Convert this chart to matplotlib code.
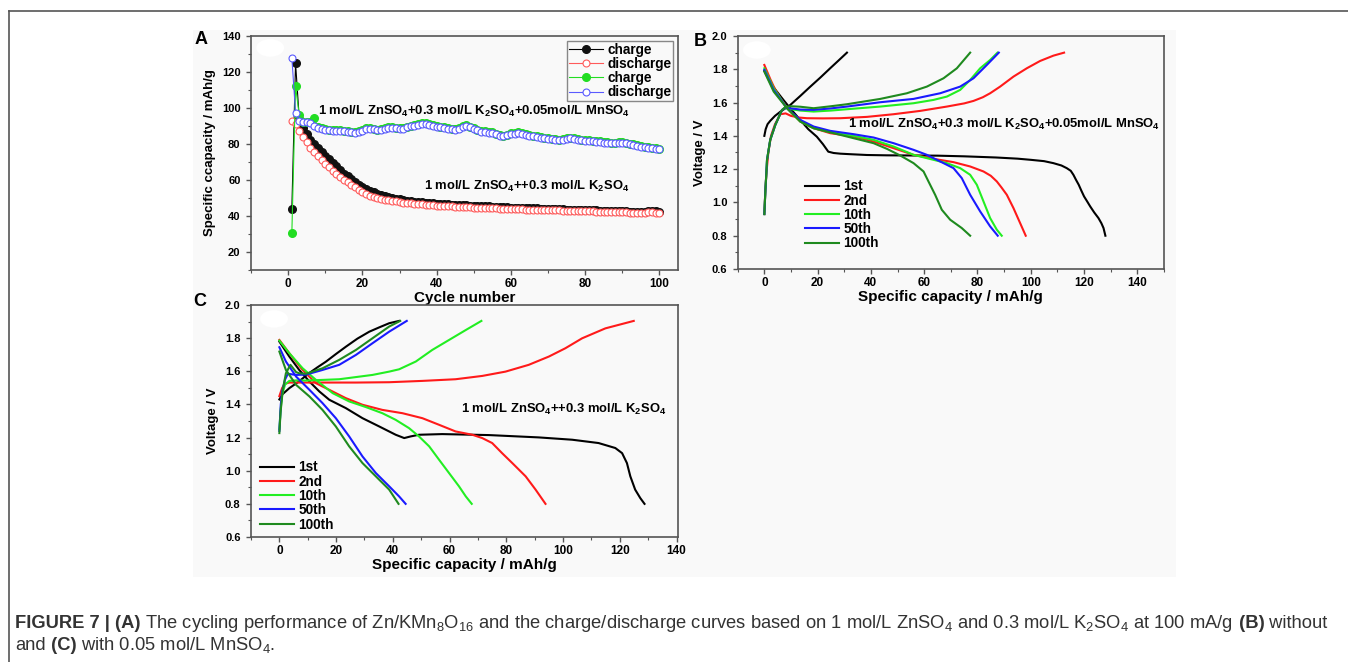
import numpy as np
import matplotlib.pyplot as plt
from matplotlib import font_manager
from matplotlib.lines import Line2D
from matplotlib.patches import Rectangle, Ellipse
from matplotlib.ticker import MultipleLocator

plt.rcParams['font.family'] = ['Liberation Sans', 'DejaVu Sans']
plt.rcParams['font.weight'] = 'bold'
plt.rcParams['axes.labelweight'] = 'bold'
plt.rcParams['mathtext.default'] = 'regular'

# ---------------- panel A: cycling ----------------
cycles = np.arange(1, 101)
a_charge_zn = [44, 125, 94, 89, 85.5, 82.5, 80, 77.8, 75.6, 73.5,
               71.5, 69.5, 67.6, 65.5, 63.6, 62, 60.5, 59, 57.5, 56.2,
               55, 54, 53.1, 52.3, 51.6, 51, 50.5, 50, 49.6, 49.2,
               48.9, 48.6, 48.3, 48, 47.8, 47.6, 47.4, 47.2, 47, 46.8,
               46.7, 46.6, 46.4, 46.3, 46.2, 46.1, 46.0, 45.9, 45.8, 45.7,
               45.6, 45.5, 45.4, 45.3, 45.2, 45.1, 45.0, 44.9, 44.8, 44.7,
               44.6, 44.5, 44.5, 44.4, 44.3, 44.2, 44.2, 44.1, 44.0, 44.0,
               43.9, 43.8, 43.8, 43.7, 43.6, 43.6, 43.5, 43.4, 43.4, 43.3,
               43.2, 43.2, 43.1, 43.0, 43.0, 42.9, 42.8, 42.8, 42.7, 42.6,
               42.6, 42.5, 42.5, 42.4, 42.4, 42.5, 42.7, 42.8, 42.6, 42.3]
a_dis_zn = [93, 91, 87, 84, 81, 78, 75.5, 73.3, 71, 69,
            67, 65, 63.3, 61.7, 60.2, 58.8, 57.4, 56, 54.5, 53.2,
            52.2, 51.3, 50.6, 50, 49.5, 49.1, 48.7, 48.4, 48.1, 47.8,
            47.5, 47.3, 47.1, 46.9, 46.7, 46.5, 46.3, 46.1, 45.9, 45.7,
            45.6, 45.5, 45.4, 45.3, 45.2, 45.1, 45.0, 44.9, 44.8, 44.7,
            44.6, 44.5, 44.4, 44.3, 44.3, 44.2, 44.1, 44.0, 44.0, 43.9,
            43.8, 43.8, 43.7, 43.6, 43.6, 43.5, 43.5, 43.4, 43.3, 43.3,
            43.2, 43.2, 43.1, 43.0, 43.0, 42.9, 42.9, 42.8, 42.8, 42.7,
            42.6, 42.6, 42.5, 42.5, 42.4, 42.3, 42.3, 42.2, 42.1, 42.1,
            42.0, 41.9, 41.8, 41.8, 41.7, 41.8, 42.0, 42.1, 41.9, 41.7]
a_charge_mn = [30.5, 112, 96, 92.5, 92.2, 92, 94.5, 89.5, 88.9, 88.4,
               88, 87.8, 87.7, 87.6, 87.5, 87.2, 86.8, 86.5, 87, 87.9,
               88.7, 89, 88.6, 88, 88.2, 88.9, 89.4, 89.5, 89.1, 88.7,
               89, 89.7, 90.2, 90.6, 91, 91.4, 91.6, 91.2, 90.6, 90.1,
               89.7, 89.4, 89, 88.6, 88.2, 88.8, 89.8, 90.3, 89.6, 88.9,
               88, 87.3, 87, 86.7, 86.4, 85.8, 85.1, 84.7, 85.2, 85.9,
               86.2, 86.4, 86, 85.4, 84.9, 84.6, 84.3, 83.9, 83.6, 83.4,
               83, 82.6, 82.4, 82.8, 83.4, 83.6, 83.2, 82.7, 82.4, 82.2,
               82, 81.8, 81.6, 81.4, 81.2, 81, 80.8, 80.7, 80.9, 81.2,
               80.8, 80.2, 79.8, 79.4, 79, 78.6, 78.3, 78, 77.7, 77.4]
a_dis_mn = [128, 97.5, 93, 92, 92, 91.5, 90, 89, 88.5, 88,
            87.6, 87.4, 87.3, 87.2, 87.1, 86.8, 86.4, 86.1, 86.6, 87.5,
            88.3, 88.6, 88.2, 87.6, 87.8, 88.5, 89, 89.1, 88.7, 88.3,
            88.6, 89.3, 89.8, 90.2, 90.6, 91, 91.2, 90.8, 90.2, 89.7,
            89.3, 89, 88.6, 88.2, 87.8, 88.4, 89.4, 89.9, 89.2, 88.5,
            87.6, 86.9, 86.6, 86.3, 86, 85.4, 84.7, 84.3, 84.8, 85.5,
            85.8, 86, 85.6, 85, 84.5, 84.2, 83.9, 83.5, 83.2, 83,
            82.6, 82.2, 82, 82.4, 83, 83.2, 82.8, 82.3, 82, 81.8,
            81.6, 81.4, 81.2, 81, 80.8, 80.6, 80.4, 80.3, 80.5, 80.8,
            80.4, 79.8, 79.4, 79, 78.6, 78.2, 77.9, 77.6, 77.3, 77]

# ---------------- panel B: with MnSO4 label ----------------
b_labels = ['1st', '2nd', '10th', '50th', '100th']
b_ch_x = [[0, 0.5, 1.2, 2.2, 4, 6, 9.7, 13.5, 17.2, 21, 24.7, 28, 31],
          [0, 0.4, 0.8, 1.5, 2.5, 4, 6, 8, 10, 13, 16, 22, 28.5, 38.5, 48.5, 58.5, 68.5, 75, 78.5, 82, 84.75, 88.5, 93.5, 98.5, 103.5, 108.5, 112.5],
          [0, 0.4, 0.75, 1, 2.2, 4.1, 6.6, 8, 10, 13.5, 18.5, 25, 31, 43.5, 56, 63.5, 68.5, 73.5, 77.25, 81, 84.75, 87.5],
          [0, 0.4, 0.75, 1, 2.2, 4.1, 6.6, 8, 10, 13.5, 18.5, 25, 31, 43.5, 56, 66, 73.5, 78.5, 83.5, 88],
          [0, 0.4, 0.75, 1, 2.2, 4.1, 6.6, 8, 10, 13.5, 18.5, 25, 31, 43.5, 53.5, 61, 67.25, 72.25, 77.25]]
b_ch_v = [[1.40, 1.44, 1.47, 1.49, 1.52, 1.545, 1.585, 1.64, 1.695, 1.75, 1.806, 1.855, 1.90],
          [0.93, 1.08, 1.18, 1.30, 1.40, 1.47, 1.53, 1.535, 1.52, 1.51, 1.506, 1.505, 1.506, 1.514, 1.53, 1.55, 1.576, 1.595, 1.61, 1.632, 1.656, 1.696, 1.756, 1.806, 1.85, 1.882, 1.90],
          [0.93, 1.075, 1.175, 1.255, 1.375, 1.465, 1.555, 1.57, 1.56, 1.552, 1.546, 1.552, 1.56, 1.576, 1.596, 1.616, 1.636, 1.676, 1.736, 1.806, 1.856, 1.90],
          [0.93, 1.075, 1.175, 1.255, 1.375, 1.465, 1.555, 1.572, 1.565, 1.558, 1.556, 1.565, 1.576, 1.602, 1.622, 1.656, 1.696, 1.746, 1.826, 1.90],
          [0.93, 1.075, 1.175, 1.255, 1.375, 1.465, 1.555, 1.575, 1.578, 1.575, 1.566, 1.578, 1.59, 1.622, 1.656, 1.696, 1.746, 1.806, 1.90]]
b_dis_x = [[0, 2.2, 4.5, 7.2, 10, 13.5, 16.5, 19.7, 22, 24, 26, 28.5, 32, 38.5, 46, 56, 65, 75, 87, 95, 100, 105, 108.5, 111.5, 113.5, 115, 116, 117, 118, 119, 120, 121.2, 122.3, 123.8, 125.4, 126.5, 127.3, 128],
           [0, 2.25, 4, 6, 8, 9.75, 13.5, 18.5, 24.75, 33.5, 41, 48.5, 56, 63.5, 71, 77.25, 82.25, 85, 87.25, 89, 91, 93.5, 96, 98.1],
           [0, 3.5, 8.5, 13.5, 18.5, 24.75, 33.5, 41, 48.5, 56, 63.5, 68.5, 73.5, 77.25, 79.75, 82.25, 84.75, 87.25, 89.1],
           [0, 3.5, 8.5, 13.5, 18.5, 24.75, 33.5, 41, 48.5, 56, 61, 66, 71, 74.1, 77.25, 81, 84.75, 87.6],
           [0, 3.5, 8.5, 13.5, 18.5, 26, 33.5, 41, 46, 51, 56, 59.75, 61.6, 64.1, 66.6, 69.75, 74.1, 77.25]]
b_dis_v = [[1.79, 1.72, 1.67, 1.615, 1.56, 1.495, 1.44, 1.395, 1.35, 1.305, 1.297, 1.293, 1.29, 1.285, 1.283, 1.282, 1.281, 1.277, 1.27, 1.263, 1.256, 1.248, 1.236, 1.222, 1.206, 1.19, 1.166, 1.135, 1.106, 1.07, 1.036, 1.005, 0.976, 0.94, 0.906, 0.875, 0.846, 0.80],
           [1.826, 1.74, 1.68, 1.626, 1.58, 1.546, 1.486, 1.446, 1.416, 1.396, 1.366, 1.326, 1.286, 1.262, 1.242, 1.216, 1.186, 1.16, 1.126, 1.09, 1.046, 0.966, 0.876, 0.80],
           [1.806, 1.686, 1.566, 1.486, 1.446, 1.422, 1.40, 1.376, 1.336, 1.286, 1.256, 1.236, 1.206, 1.166, 1.106, 1.006, 0.906, 0.836, 0.80],
           [1.796, 1.676, 1.566, 1.496, 1.456, 1.43, 1.41, 1.39, 1.356, 1.316, 1.286, 1.246, 1.206, 1.146, 1.046, 0.946, 0.856, 0.80],
           [1.786, 1.666, 1.566, 1.486, 1.446, 1.416, 1.386, 1.356, 1.322, 1.282, 1.236, 1.186, 1.126, 1.046, 0.956, 0.896, 0.846, 0.80]]

# ---------------- panel C ----------------
c_ch_x = [[0, 1, 3.5, 7, 10.5, 13.5, 16.4, 20, 23.5, 27.5, 31.7, 35.2, 38.7, 42.2],
          [0, 1, 2, 3.5, 15.2, 27, 38.7, 50.4, 62.1, 71.5, 79.7, 87.9, 95, 100.8, 106.7, 114.9, 124.9],
          [0, 0.5, 1, 2, 3.5, 6, 9.4, 21.1, 32.8, 38.7, 42.2, 48.1, 53.9, 59.8, 65.7, 71.2],
          [0, 0.5, 1, 2, 3, 5.9, 9.4, 15.2, 21.1, 27, 32.8, 38.7, 44.9],
          [0, 0.4, 1.2, 2.3, 3.9, 5.9, 7, 9.4, 15.2, 21.1, 27, 32.8, 38.7, 42.6]]
c_ch_v = [[1.43, 1.46, 1.498, 1.54, 1.589, 1.625, 1.658, 1.705, 1.749, 1.797, 1.839, 1.865, 1.89, 1.904],
          [1.45, 1.50, 1.525, 1.532, 1.532, 1.532, 1.534, 1.542, 1.552, 1.572, 1.598, 1.639, 1.689, 1.739, 1.799, 1.859, 1.904],
          [1.25, 1.38, 1.46, 1.52, 1.542, 1.545, 1.544, 1.552, 1.578, 1.598, 1.612, 1.659, 1.729, 1.789, 1.849, 1.904],
          [1.24, 1.40, 1.48, 1.55, 1.585, 1.578, 1.58, 1.608, 1.639, 1.699, 1.769, 1.839, 1.904],
          [1.227, 1.35, 1.488, 1.588, 1.639, 1.595, 1.588, 1.585, 1.618, 1.669, 1.729, 1.799, 1.87, 1.904]]
c_dis_x = [[0, 3.5, 7, 10.6, 14.1, 17.6, 23.4, 29.3, 35.2, 41, 44, 46.3, 49.2, 57.4, 73.9, 91.4, 103.2, 112.5, 118.4, 120.8, 122.5, 123.7, 125.4, 127.2, 128.7],
           [0, 3.5, 8.2, 12.9, 17.6, 23.4, 29.3, 36.3, 43.4, 50.4, 56.3, 62.1, 68, 71.5, 75, 78.5, 82.1, 86.8, 90.3, 93.8],
           [0, 3.5, 8.2, 12.9, 18.8, 24.6, 30.5, 36.3, 41, 45.7, 49.2, 52.8, 56.3, 59.8, 63.3, 65.7, 67.8],
           [0, 2.3, 5.9, 10.6, 15.2, 19.9, 24.6, 29.3, 34, 38.7, 42.2, 44.5],
           [0, 2.3, 5.9, 10.6, 15.2, 19.9, 24.6, 29.3, 34, 38.7, 42]]
c_dis_v = [[1.779, 1.689, 1.608, 1.538, 1.478, 1.428, 1.378, 1.317, 1.267, 1.217, 1.197, 1.207, 1.217, 1.221, 1.215, 1.201, 1.187, 1.167, 1.137, 1.106, 1.046, 0.966, 0.886, 0.835, 0.80],
           [1.789, 1.709, 1.608, 1.528, 1.488, 1.438, 1.398, 1.367, 1.347, 1.317, 1.277, 1.237, 1.217, 1.197, 1.167, 1.106, 1.046, 0.966, 0.886, 0.80],
           [1.785, 1.709, 1.618, 1.548, 1.468, 1.418, 1.384, 1.347, 1.307, 1.257, 1.207, 1.147, 1.066, 0.986, 0.906, 0.845, 0.80],
           [1.745, 1.659, 1.568, 1.488, 1.408, 1.317, 1.207, 1.086, 0.986, 0.906, 0.845, 0.80],
           [1.719, 1.608, 1.518, 1.448, 1.367, 1.267, 1.147, 1.046, 0.966, 0.886, 0.80]]

cycle_colors = ['#000000', '#ff1a1a', '#22ee22', '#1a1aff', '#1f8a1f']

W, H = 1348, 662
fig = plt.figure(figsize=(W / 100, H / 100), dpi=100)
fig.patch.set_facecolor('white')


def px_rect(left, top, right, bottom):
    return [left / W, 1 - bottom / H, (right - left) / W, (bottom - top) / H]


# outer frame (top and left rule) and the light panel background
fig.add_artist(Line2D([9 / W, 1], [1 - 11 / H, 1 - 11 / H], color='#555555', lw=1.2))
fig.add_artist(Line2D([9 / W, 9 / W], [1 - 11 / H, 0], color='#555555', lw=1.2))
fig.add_artist(Rectangle((193 / W, 1 - 577 / H), 983 / W, 547 / H,
                         transform=fig.transFigure, fc='#f9f9f9', ec='none', zorder=0))

axA = fig.add_axes(px_rect(251, 36, 678, 270))
axB = fig.add_axes(px_rect(737.7, 36, 1164, 269))
axC = fig.add_axes(px_rect(251, 305, 678, 537))


def style(ax):
    ax.set_facecolor('#f9f9f9')
    for s in ax.spines.values():
        s.set_color('#555555')
        s.set_linewidth(1.2)
    ax.tick_params(which='both', direction='out', color='#555555', top=False, right=False)
    ax.tick_params(which='major', length=3.5, width=1)
    ax.tick_params(which='minor', length=2, width=0.8)
    ax.tick_params(axis='x', labelsize=8.5, pad=2)
    ax.tick_params(axis='y', labelsize=8, pad=4)


for ax in (axA, axB, axC):
    style(ax)

leg_kw = dict(fontsize=9.8, labelspacing=0.02, handlelength=2.5, handletextpad=0.3)

# ---- A ----
axA.plot(cycles, a_charge_zn, '-o', color='black', lw=0.8, ms=5.5, mfc='#111111', mec='#111111', label='charge')
axA.plot(cycles, a_dis_zn, '-o', color='#ff5a5a', lw=0.8, ms=5, mfc='white', mec='#ff5a5a', mew=0.8, label='discharge')
axA.plot(cycles, a_charge_mn, '-o', color='#22dd22', lw=0.8, ms=5.5, mfc='#22dd22', mec='#22dd22', label='charge')
axA.plot(cycles, a_dis_mn, '-o', color='#5a5aff', lw=0.8, ms=5, mfc='white', mec='#5a5aff', mew=0.8, label='discharge')
axA.set_xlim(-10, 105)
axA.set_ylim(10, 140)
axA.xaxis.set_major_locator(MultipleLocator(20))
axA.xaxis.set_minor_locator(MultipleLocator(10))
axA.yaxis.set_major_locator(MultipleLocator(20))
axA.yaxis.set_minor_locator(MultipleLocator(10))
axA.set_yticks([20, 40, 60, 80, 100, 120, 140])
axA.set_xlabel('Cycle number', fontsize=11, labelpad=1)
axA.set_ylabel('Specific ccapacity / mAh/g', fontsize=9.5, labelpad=4)
legA = axA.legend(loc='upper right', bbox_to_anchor=(0.988, 0.979), borderaxespad=0,
                  borderpad=0.12, fancybox=False, framealpha=1, edgecolor='#888888', **leg_kw)
legA.get_frame().set_facecolor('#f9f9f9')
axA.text(8, 98.1, '1 mol/L ZnSO$_4$+0.3 mol/L K$_2$SO$_4$+0.05mol/L MnSO$_4$',
         fontsize=9.4, ha='left', va='center')
axA.text(36.6, 56.2, '1 mol/L ZnSO$_4$++0.3 mol/L K$_2$SO$_4$',
         fontsize=9.4, ha='left', va='center')

# ---- B and C ----
for ax, chx, chv, dx, dv in ((axB, b_ch_x, b_ch_v, b_dis_x, b_dis_v),
                             (axC, c_ch_x, c_ch_v, c_dis_x, c_dis_v)):
    for i in range(len(b_labels)):
        ax.plot(chx[i], chv[i], color=cycle_colors[i], lw=1.5)
        ax.plot(dx[i], dv[i], color=cycle_colors[i], lw=1.5, label=b_labels[i])
    ax.set_ylim(0.6, 2.0)
    ax.xaxis.set_major_locator(MultipleLocator(20))
    ax.xaxis.set_minor_locator(MultipleLocator(10))
    ax.yaxis.set_major_locator(MultipleLocator(0.2))
    ax.yaxis.set_minor_locator(MultipleLocator(0.1))
    ax.yaxis.set_major_formatter(plt.FormatStrFormatter('%.1f'))
    ax.set_xlabel('Specific capacity / mAh/g', fontsize=11, labelpad=1)
    ax.set_ylabel('Voltage / V', fontsize=9.5, labelpad=4)

axB.set_xlim(-10, 150)
axC.set_xlim(-10, 140.5)
axB.legend(loc='upper left', bbox_to_anchor=(0.158, 0.385), borderaxespad=0, borderpad=0,
           frameon=False, **leg_kw)
axC.legend(loc='upper left', bbox_to_anchor=(0.021, 0.33), borderaxespad=0, borderpad=0,
           frameon=False, **leg_kw)
axB.text(31.4, 1.466, '1 mol/L ZnSO$_4$+0.3 mol/L K$_2$SO$_4$+0.05mol/L MnSO$_4$',
         fontsize=9.4, ha='left', va='center')
axC.text(63.9, 1.367, '1 mol/L ZnSO$_4$++0.3 mol/L K$_2$SO$_4$',
         fontsize=9.4, ha='left', va='center')

# white blobs in the top-left corners
for ax, cx, cy in ((axA, 0.045, 0.949), (axB, 0.045, 0.94), (axC, 0.054, 0.94)):
    ax.add_patch(Ellipse((cx, cy), 0.065, 0.075, transform=ax.transAxes,
                         fc='white', ec='none', zorder=1))

# panel letters
for letter, x, y in (('A', 201, 40), ('B', 700, 42), ('C', 200, 301)):
    fig.text(x / W, 1 - y / H, letter, fontsize=13, fontweight='bold', ha='center', va='center')

# ---------------- caption ----------------
names = {f.name for f in font_manager.fontManager.ttflist}
cap_font = 'Liberation Sans Narrow' if 'Liberation Sans Narrow' in names else 'Liberation Sans'
cap_size = 13.2 if cap_font == 'Liberation Sans' else 14
line1 = [('FIGURE 7 | (A)', 'bold'),
         (' The cycling performance of Zn/KMn$_8$O$_{16}$ and the charge/discharge curves based on '
          '1 mol/L ZnSO$_4$ and 0.3 mol/L K$_2$SO$_4$ at 100 mA/g', 'normal'),
         (' (B)', 'bold'), (' without', 'normal')]
line2 = [('and', 'normal'), (' (C)', 'bold'), (' with 0.05 mol/L MnSO$_4$.', 'normal')]

renderer = fig.canvas.get_renderer()
for parts, base in ((line1, 628), (line2, 650)):
    x = 15
    for txt, wt in parts:
        t = fig.text(x / W, 1 - base / H, txt, fontsize=cap_size, fontweight=wt,
                     family=cap_font, color='#333333', ha='left', va='baseline')
        x = t.get_window_extent(renderer).x1

fig.savefig('out.png', dpi=100)
